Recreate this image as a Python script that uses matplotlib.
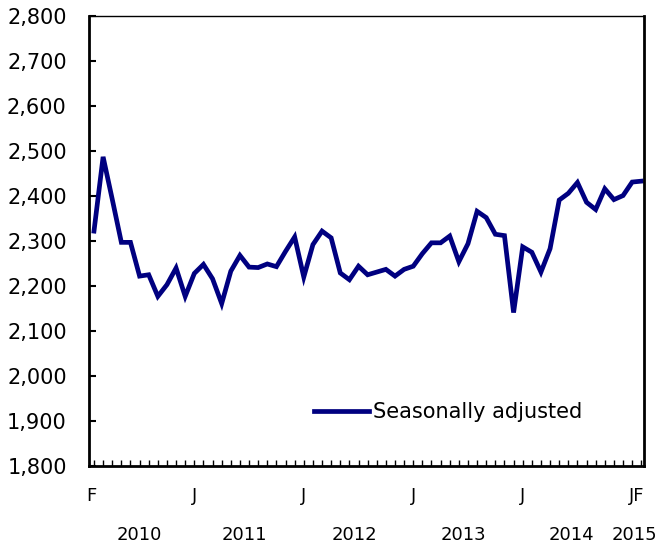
import matplotlib
matplotlib.use('Agg')
import matplotlib.pyplot as plt
import numpy as np

# monthly values, Feb 2010 .. Feb 2015
values = [
    2322, 2487, 2393, 2297, 2297, 2222, 2225, 2177, 2203, 2240, 2177,              # 2010
    2228, 2248, 2216, 2161, 2233, 2268, 2242, 2241, 2249, 2243, 2277, 2309,        # 2011
    2220, 2292, 2322, 2307, 2229, 2214, 2244, 2225, 2231, 2237, 2222, 2237,        # 2012
    2244, 2272, 2296, 2296, 2311, 2254, 2294, 2366, 2352, 2315, 2312, 2141,        # 2013
    2287, 2275, 2231, 2283, 2391, 2406, 2430, 2386, 2370, 2416, 2392, 2401,        # 2014
    2431, 2433,                                                                    # 2015
]
month_labels = ['F', 'J', 'J', 'J', 'J', 'JF']
month_label_idx = [-0.3, 11, 23, 35, 47, 59.5]
years = ['2010', '2011', '2012', '2013', '2014', '2015']
year_pos = [5, 16.5, 28.5, 40.5, 52.3, 59.3]
series_name = 'Seasonally adjusted'

plt.rcParams['font.family'] = ['DejaVu Sans']

fig = plt.figure(figsize=(6.6, 5.48), dpi=100)
ax = fig.add_axes([0.1348, 0.1496, 0.841, 0.8212])

x = np.arange(len(values))
ax.plot(x, values, color='#000080', linewidth=3.4, label=series_name,
        solid_joinstyle='miter')

ax.set_xlim(-0.55, 60.3)
ax.set_ylim(1800, 2800)
ax.set_yticks(np.arange(1800, 2801, 100))
ax.set_yticklabels([f'{v:,}' for v in range(1800, 2801, 100)], fontsize=15)
ax.tick_params(axis='y', direction='in', length=5, width=1.5, pad=16, colors='black')

ax.set_xticks(x, minor=True)
ax.set_xticks([])
ax.tick_params(axis='x', which='minor', direction='in', length=4, width=1)

for s in ['left', 'bottom', 'right']:
    ax.spines[s].set_linewidth(2)
ax.spines['top'].set_linewidth(1)

tr = ax.get_xaxis_transform()
for i, lab in zip(month_label_idx, month_labels):
    ax.text(i, -0.067, lab, transform=tr, ha='center', va='center', fontsize=13)
for p, yr in zip(year_pos, years):
    ax.text(p, -0.154, yr, transform=tr, ha='center', va='center', fontsize=13)

ax.legend(loc='center left', bbox_to_anchor=(0.405, 0.12), frameon=False, fontsize=15,
          handlelength=2.65, handletextpad=0.2, borderaxespad=0, borderpad=0)

fig.savefig('out.png', dpi=100)
